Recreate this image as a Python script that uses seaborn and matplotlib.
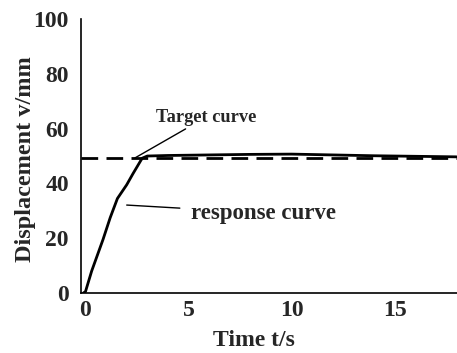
import matplotlib
matplotlib.use("Agg")
import matplotlib.pyplot as plt
import seaborn as sns
import pandas as pd

sns.set_theme(style="white")
plt.rcParams['font.family'] = ['Liberation Serif', 'DejaVu Serif']
plt.rcParams['font.weight'] = 'bold'

time_s = [-0.1, 0.0, 0.3, 0.85, 1.2, 1.55, 2.0, 2.3, 2.75, 3.0, 4.0, 6.0, 8.0, 10.0, 12.0, 14.0, 16.0, 18.0]
response = [0.0, 0.5, 8.0, 19.5, 27.5, 34.5, 39.5, 43.5, 49.2, 50.0, 50.2, 50.4, 50.6, 50.7, 50.4, 50.1, 49.9, 49.7]
target_x = [-0.2, 18.0]
target_y = [49.3, 49.3]
xticks = [0, 5, 10, 15]
yticks = [0, 20, 40, 60, 80, 100]

fig, ax = plt.subplots(figsize=(4.57, 3.53), dpi=100)
sns.lineplot(x=target_x, y=target_y, ax=ax, color="black", lw=2.0,
             linestyle=(0, (6, 3)))
sns.lineplot(x=time_s, y=response, ax=ax, color="black", lw=2.0)

ax.set_xlim(-0.2, 18)
ax.set_ylim(0, 100)
ax.set_xticks(xticks)
ax.set_yticks(yticks)
ax.tick_params(axis='both', length=0, labelsize=17)
ax.tick_params(axis='y', pad=9)
ax.tick_params(axis='x', pad=5)
for lab in ax.get_xticklabels() + ax.get_yticklabels():
    lab.set_fontweight('bold')
ax.set_xlabel("Time t/s", fontsize=17, fontweight='bold')
ax.set_ylabel("Displacement v/mm", fontsize=17.5, fontweight='bold')
ax.xaxis.set_label_coords(0.46, -0.135)
ax.yaxis.set_label_coords(-0.12, 0.49)
for s in ['top', 'right']:
    ax.spines[s].set_visible(False)
for s in ['left', 'bottom']:
    ax.spines[s].set_color('black')
    ax.spines[s].set_linewidth(1.2)

ax.annotate("Target curve", xy=(2.4, 49.3), xytext=(3.42, 64.2),
            fontsize=13.2, fontweight='bold', va='center', ha='left',
            arrowprops=dict(arrowstyle='-', color='black', lw=1.0, shrinkA=0, shrinkB=0))
ax.annotate("response curve", xy=(2.0, 32.1), xytext=(5.14, 29.2),
            fontsize=16.5, fontweight='bold', va='center', ha='left',
            arrowprops=dict(arrowstyle='-', color='black', lw=1.0, shrinkA=6, shrinkB=0))

fig.subplots_adjust(left=0.178, right=0.999, top=0.946, bottom=0.17)
fig.savefig("out.png", dpi=100)
